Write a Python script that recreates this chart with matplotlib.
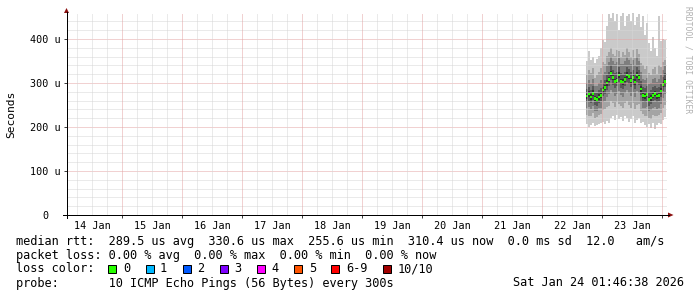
import matplotlib
matplotlib.use("Agg")
import matplotlib.pyplot as plt
import matplotlib.dates as mdates
import matplotlib.ticker as tick
from matplotlib.patches import Rectangle, Polygon
from matplotlib.lines import Line2D
import pandas as pd


############################################################
## Data (microseconds), one value per 48 min step
############################################################
t_start = "2026-01-22 17:36"
n_steps = 40
view_end = "2026-01-24 01:46:38"

median = [270, 275, 268, 276, 264, 262, 268, 272, 284, 290,
          300, 308, 322, 312, 304, 306, 318, 304, 302, 308,
          318, 314, 306, 312, 302, 318, 312, 286, 272, 270,
          274, 262, 266, 272, 276, 270, 272, 282, 296, 304]

# sorted pings, 1 = fastest .. 10 = slowest
ping1 = [206, 200, 204, 208, 202, 205, 207, 208, 212, 206,
         214, 210, 220, 224, 216, 228, 218, 222, 214, 226,
         220, 212, 218, 224, 210, 216, 220, 208, 212, 204,
         200, 206, 198, 208, 196, 204, 210, 206, 216, 222]
ping2 = [228, 224, 226, 232, 220, 222, 228, 230, 238, 240,
         246, 248, 258, 254, 246, 256, 252, 248, 244, 254,
         258, 250, 244, 254, 240, 250, 252, 236, 230, 226,
         224, 220, 218, 228, 226, 224, 228, 232, 242, 250]
ping3 = [244, 246, 240, 248, 236, 236, 242, 244, 256, 260,
         268, 274, 284, 278, 270, 276, 282, 272, 268, 278,
         284, 278, 270, 280, 268, 282, 278, 256, 244, 242,
         246, 236, 238, 244, 246, 240, 244, 252, 266, 274]
ping4 = [256, 260, 254, 262, 250, 248, 254, 258, 270, 276,
         284, 292, 306, 296, 288, 292, 302, 288, 286, 292,
         302, 298, 290, 296, 286, 302, 296, 272, 258, 256,
         260, 248, 252, 258, 262, 256, 258, 268, 282, 290]
ping5 = [264, 269, 262, 270, 258, 256, 262, 266, 278, 284,
         294, 302, 316, 306, 298, 300, 312, 298, 296, 302,
         312, 308, 300, 306, 296, 312, 306, 280, 266, 264,
         268, 256, 260, 266, 270, 264, 266, 276, 290, 298]
ping6 = [276, 282, 274, 283, 270, 268, 274, 278, 290, 296,
         306, 314, 328, 318, 310, 312, 324, 310, 308, 314,
         324, 320, 312, 318, 308, 324, 318, 292, 278, 276,
         280, 268, 272, 278, 282, 276, 278, 288, 302, 310]
ping7 = [286, 290, 284, 292, 278, 278, 284, 288, 300, 306,
         318, 326, 340, 330, 322, 324, 336, 322, 320, 326,
         336, 332, 324, 330, 320, 336, 330, 304, 290, 288,
         292, 280, 284, 290, 294, 288, 290, 298, 314, 322]
ping8 = [300, 306, 298, 308, 292, 294, 300, 306, 320, 324,
         338, 348, 360, 350, 342, 348, 356, 342, 344, 350,
         360, 352, 344, 352, 340, 358, 350, 324, 310, 306,
         312, 298, 300, 308, 312, 302, 310, 318, 330, 338]
ping9 = [318, 330, 322, 334, 312, 318, 326, 334, 348, 344,
         362, 370, 380, 366, 362, 376, 372, 360, 370, 364,
         380, 370, 360, 376, 356, 378, 366, 346, 340, 332,
         338, 322, 318, 332, 336, 320, 340, 336, 348, 352]
ping10 = [350, 372, 352, 360, 345, 355, 362, 380, 398, 392,
          430, 456, 448, 458, 440, 456, 420, 452, 458, 430,
          452, 456, 440, 458, 432, 450, 456, 428, 452, 410,
          436, 390, 372, 404, 380, 362, 452, 396, 400, 398]

pings = [ping1, ping2, ping3, ping4, ping5, ping6, ping7, ping8, ping9, ping10]

loss_labels = ["0", "1", "2", "3", "4", "5", "6-9", "10/10"]
loss_colors = ["#26ff00", "#00b8ff", "#0059ff", "#7e00ff",
               "#ff00ff", "#ff5500", "#ff0000", "#a10000"]

legend_lines = [
    "median rtt:  289.5 us avg  330.6 us max  255.6 us min  310.4 us now  0.0 ms sd  12.0   am/s",
    "packet loss: 0.00 % avg  0.00 % max  0.00 % min  0.00 % now",
    "loss color:",
    "probe:       10 ICMP Echo Pings (56 Bytes) every 300s",
]
stamp = "Sat Jan 24 01:46:38 2026"

############################################################
## Layout helpers (pixel -> figure fraction)
############################################################
W, H = 697, 297
MONO = "DejaVu Sans Mono"


def fx(px):
    return px / W


def fy(py):
    return 1 - py / H


fig = plt.figure(figsize=(W / 100, H / 100), dpi=100, facecolor="white")
ax = fig.add_axes([fx(66.5), fy(215), 600 / W, 202 / H])
ax.set_facecolor("white")

end = pd.Timestamp(view_end)
start = end - pd.Timedelta(days=10)
ax.set_xlim(mdates.date2num(start.to_pydatetime()), mdates.date2num(end.to_pydatetime()))
ax.set_ylim(0, 459)

edges = pd.date_range(t_start, periods=n_steps + 1, freq="48min")
xe = mdates.date2num(edges.to_pydatetime())

# Smoke: nested bands between ping i and ping (n+1-i)
half = len(pings) // 2
for i in range(half):
    shade = int(190 / half * (half - 1 - i)) + 50
    col = "#%02x%02x%02x" % (shade, shade, shade)
    ax.stairs(pings[-1 - i], xe, baseline=pings[i], fill=True,
              color=col, lw=0, zorder=1 + i * 0.1)

# median, coloured by loss (all zero here)
med_lo = [m - 3.0 for m in median]
med_hi = [m + 3.0 for m in median]
ax.stairs(med_hi, xe, baseline=med_lo, fill=True, color=loss_colors[0],
          lw=0, zorder=2)

# Grid (dotted, drawn on top like rrdtool)
dots = (0, (1, 1))
minor_c, major_c = "#d6d6d6", "#e4a4a4"
for v in range(20, 459, 20):
    c = major_c if v % 100 == 0 else minor_c
    ax.axhline(v, color=c, lw=0.72, ls=dots, zorder=3)
for t in pd.date_range("2026-01-14 06:00", end, freq="6h"):
    c = major_c if t.hour == 0 else minor_c
    ax.axvline(mdates.date2num(t.to_pydatetime()), color=c, lw=0.72,
               ls=dots, zorder=3)

for s in ax.spines.values():
    s.set_visible(False)

# Ticks and labels
ax.yaxis.set_major_locator(tick.MultipleLocator(100))
ax.yaxis.set_major_formatter(tick.FuncFormatter(
    lambda v, p: "0" if v == 0 else "%d u" % v))
ax.xaxis.set_major_locator(mdates.DayLocator())
ax.xaxis.set_major_formatter(tick.NullFormatter())
ax.xaxis.set_minor_locator(mdates.HourLocator(byhour=12))
ax.xaxis.set_minor_formatter(mdates.DateFormatter("%d %b"))
ax.tick_params(axis="both", which="major", direction="out", length=2.2,
               width=0.72, color="#404040")
ax.tick_params(axis="x", which="minor", length=0, pad=4.5,
               labelsize=7.3)
ax.tick_params(axis="y", which="major", pad=13.3, labelsize=7.3)
for lab in ax.get_yticklabels() + ax.get_xticklabels(minor=True):
    lab.set_fontfamily(MONO)
for lab in ax.get_yticklabels():
    lab.set_ha("center")

# Axis lines with arrows
fig.add_artist(Line2D([fx(62.5), fx(669)], [fy(215), fy(215)],
                      color="black", lw=0.72))
fig.add_artist(Line2D([fx(66.5), fx(66.5)], [fy(218), fy(12)],
                      color="black", lw=0.72))
fig.add_artist(Polygon([[fx(668), fy(212.5)], [fx(673.5), fy(215)],
                        [fx(668), fy(217.5)]], closed=True,
                       color="#8b1010", lw=0))
fig.add_artist(Polygon([[fx(64), fy(13)], [fx(66.5), fy(8)],
                        [fx(69), fy(13)]], closed=True,
                       color="#8b1010", lw=0))

fig.text(fx(11), fy(114), "Seconds", rotation=90, ha="center",
         va="center", fontsize=8.1, family=MONO)
fig.text(fx(688), fy(60), "RRDTOOL / TOBI OETIKER", rotation=270,
         ha="center", va="center", fontsize=5.8, family=MONO,
         color="#b0b0b0")

# Legend block
base = [244.5, 258.5, 272.5, 286.5]
for line, b in zip(legend_lines, base):
    fig.text(fx(16), fy(b), line, ha="left", va="baseline",
             fontsize=8.54, family=MONO)
fig.text(fx(513), fy(base[3]), stamp, ha="left", va="baseline",
         fontsize=8.54, family=MONO)

bx = 108.3
for lab, col in zip(loss_labels, loss_colors):
    fig.add_artist(Rectangle((fx(bx), fy(272.5)), 8 / W, 8 / H,
                             facecolor=col, edgecolor="black", lw=0.72))
    fig.text(fx(bx + 14.5), fy(base[2]), lab, ha="left", va="baseline",
             fontsize=8.54, family=MONO)
    bx += 37.2 + 7.14 * (len(lab) - 1)

fig.savefig("out.png", dpi=100, facecolor="white")
